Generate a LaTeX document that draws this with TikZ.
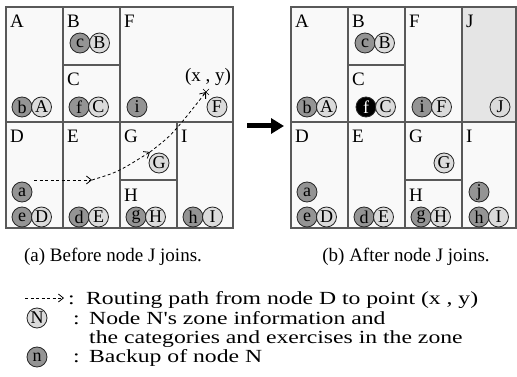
\documentclass[tikz,border=0pt]{standalone}
\usepackage{fontspec}
\setmainfont{Liberation Serif}
\newfontfamily\legendfont[FakeStretch=1.28]{Liberation Serif}
\usetikzlibrary{arrows.meta}

\definecolor{cellbg}{gray}{0.975}
\definecolor{newbg}{gray}{0.90}
\definecolor{rim}{gray}{0.35}
\definecolor{zonefill}{gray}{0.86}
\definecolor{backfill}{gray}{0.58}

\tikzset{
  cell/.style={draw=rim, fill=cellbg, line width=1.1pt},
  zlabel/.style={anchor=base west, inner sep=0pt, font=\fontsize{19}{20}\selectfont},
  zone/.style={circle, draw=black!85, fill=zonefill, line width=0.8pt, minimum size=20pt, inner sep=0pt, font=\fontsize{18}{18}\selectfont},
  backup/.style={zone, fill=backfill},
  route/.style={line width=0.8pt, dash pattern=on 3pt off 2.5pt, -{Straight Barb[length=5pt,width=8pt]}},
  txt/.style={anchor=base west, inner sep=0pt, font=\fontsize{19}{20}\selectfont},
  legtxt/.style={anchor=base west, inner sep=0pt, font=\fontsize{18.5}{20}\legendfont},
}

\begin{document}
\begin{tikzpicture}[x=1pt, y=-1pt]
                \useasboundingbox[fill=white] (0, 0) rectangle (517, 377);

                % (a) before J joins
                \draw[cell] (6, 7) rectangle (63, 122);
                \draw[cell] (63, 7) rectangle (120, 65);
                \draw[cell] (63, 65) rectangle (120, 122);
                \draw[cell] (120, 7) rectangle (233, 122);
                \draw[cell] (6, 122) rectangle (63, 228);
                \draw[cell] (63, 122) rectangle (120, 228);
                \draw[cell] (120, 122) rectangle (177, 180);
                \draw[cell] (120, 180) rectangle (177, 228);
                \draw[cell] (177, 122) rectangle (233, 228);

                \node[zlabel] (lzA) at (10, 28) {A};
                \node[zlabel] (lzB) at (67, 28) {B};
                \node[zlabel] (lzC) at (67, 86) {C};
                \node[zlabel] (lzF) at (124, 28) {F};
                \node[zlabel] (lzD) at (10, 143) {D};
                \node[zlabel] (lzE) at (67, 143) {E};
                \node[zlabel] (lzG) at (124, 143) {G};
                \node[zlabel] (lzH) at (124, 201) {H};
                \node[zlabel] (lzI) at (181, 143) {I};

                \node[backup] (lb) at (22, 107) {b};
                \node[zone] (lA) at (41.5, 107) {A};
                \node[backup] (lc) at (80, 43) {c};
                \node[zone] (lB) at (99.5, 43) {B};
                \node[backup] (lf) at (79, 107) {f};
                \node[zone] (lC) at (98.5, 107) {C};
                \node[backup] (li) at (137, 107) {i};
                \node[zone] (lF) at (217, 107) {F};
                \node[zone] (lG) at (159, 163) {G};
                \node[backup] (la) at (22, 192) {a};
                \node[backup] (le) at (22, 217) {e};
                \node[zone] (lD) at (41.5, 217) {D};
                \node[backup] (ld) at (79, 217) {d};
                \node[zone] (lE) at (98.5, 217) {E};
                \node[backup] (lg) at (136, 217) {g};
                \node[zone] (lH) at (155.5, 217) {H};
                \node[backup] (lh) at (193, 217) {h};
                \node[zone] (lI) at (212.5, 217) {I};

                % routing path from D to (x , y)
                \coordinate (r0) at (34, 180);
                \coordinate (r1) at (92, 180);
                \coordinate (r2) at (150, 152);
                \coordinate (xy) at (206, 92);
                \draw[route] (r0) -- (r1);
                \draw[route] (r1) .. controls (118, 172) .. (r2);
                \draw[route] (r2) .. controls (172, 135) .. (xy);
                \draw[line width=0.7pt] ([shift={(-3, -3)}]xy) -- ([shift={(3, 3)}]xy)
                ([shift={(-3, 3)}]xy) -- ([shift={(3, -3)}]xy);
                \node[txt, anchor=base] (xylbl) at (208, 82) {(x , y)};

                % big arrow
                \coordinate (ba) at (247, 126);
                \coordinate (bb) at (284, 126);
                \draw[line width=5pt, -{Triangle[length=13pt, width=15pt]}] (ba) -- (bb);

                % (b) after J joins
                \draw[cell] (291, 7) rectangle (348, 122);
                \draw[cell] (348, 7) rectangle (405, 65);
                \draw[cell] (348, 65) rectangle (405, 122);
                \draw[cell] (405, 7) rectangle (462, 122);
                \draw[cell, fill=newbg] (462, 7) rectangle (516, 122);
                \draw[cell] (291, 122) rectangle (348, 228);
                \draw[cell] (348, 122) rectangle (405, 228);
                \draw[cell] (405, 122) rectangle (462, 180);
                \draw[cell] (405, 180) rectangle (462, 228);
                \draw[cell] (462, 122) rectangle (516, 228);

                \node[zlabel] (rzA) at (295, 28) {A};
                \node[zlabel] (rzB) at (352, 28) {B};
                \node[zlabel] (rzC) at (352, 86) {C};
                \node[zlabel] (rzF) at (409, 28) {F};
                \node[zlabel] (rzJ) at (466, 28) {J};
                \node[zlabel] (rzD) at (295, 143) {D};
                \node[zlabel] (rzE) at (352, 143) {E};
                \node[zlabel] (rzG) at (409, 143) {G};
                \node[zlabel] (rzH) at (409, 201) {H};
                \node[zlabel] (rzI) at (466, 143) {I};

                \node[backup] (rb) at (307, 107) {b};
                \node[zone] (rA) at (326.5, 107) {A};
                \node[backup] (rc) at (365, 43) {c};
                \node[zone] (rB) at (384.5, 43) {B};
                \node[backup, fill=black, text=white] (rf) at (366, 107) {f};
                \node[zone] (rC) at (385.5, 107) {C};
                \node[backup] (ri) at (422, 107) {i};
                \node[zone] (rF) at (441.5, 107) {F};
                \node[zone] (rJ) at (500, 107) {J};
                \node[zone] (rG) at (444, 163) {G};
                \node[backup] (ra) at (307, 192) {a};
                \node[backup] (re) at (307, 217) {e};
                \node[zone] (rD) at (326.5, 217) {D};
                \node[backup] (rd) at (364, 217) {d};
                \node[zone] (rE) at (383.5, 217) {E};
                \node[backup] (rg) at (421, 217) {g};
                \node[zone] (rH) at (440.5, 217) {H};
                \node[backup] (rj) at (479, 192) {j};
                \node[backup] (rh) at (479, 217) {h};
                \node[zone] (rI) at (498.5, 217) {I};

                % captions
                \node[txt, anchor=base] (capa) at (113, 261) {(a) Before node J joins.};
                \node[txt, anchor=base] (capb) at (406, 261) {(b) After node J joins.};

                % legend
                \coordinate (k0) at (25, 298);
                \coordinate (k1) at (64, 298);
                \draw[route] (k0) -- (k1);
                \node[legtxt] (kc1) at (68, 304) {:};
                \node[legtxt] (kt1) at (86, 304) {Routing path from node D to point (x , y)};
                \node[zone] (kN) at (37, 318) {N};
                \node[legtxt] (kc2) at (73, 324) {:};
                \node[legtxt] (kt2) at (89, 324) {Node N's zone information and};
                \node[legtxt] (kt3) at (89, 343) {the categories and exercises in the zone};
                \node[backup] (kn) at (37, 357) {n};
                \node[legtxt] (kc3) at (73, 362) {:};
                \node[legtxt] (kt4) at (89, 362) {Backup of node N};
\end{tikzpicture}
\end{document}
